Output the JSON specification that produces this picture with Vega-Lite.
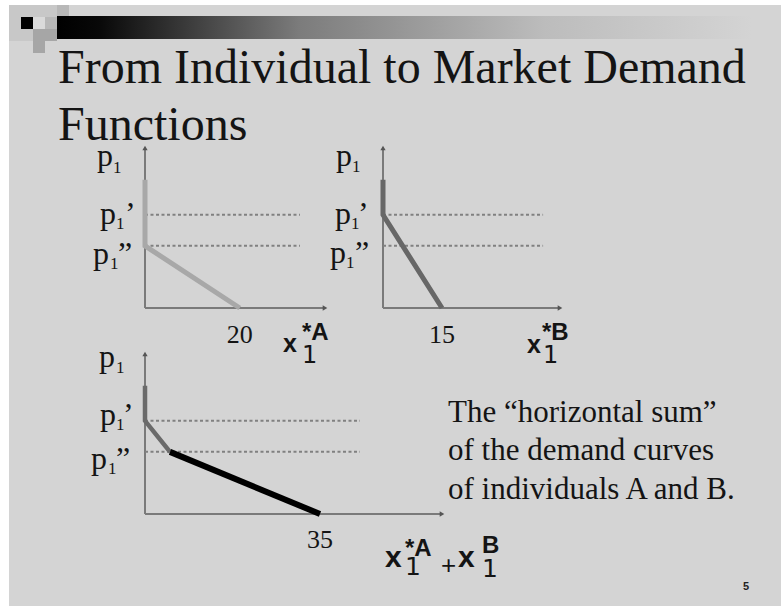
{
  "$schema": "https://vega.github.io/schema/vega-lite/v6.json",
  "width": 781,
  "height": 606,
  "padding": 0,
  "autosize": {"type": "none"},
  "background": "#ffffff",
  "config": {"view": {"stroke": null}, "axis": {"disable": true}, "legend": {"disable": true}},
  "data": {"values": [{}]},
  "datasets": {
    "deco": [
      {"col": 0, "row": 0, "tone": "light"}, {"col": 1, "row": 0, "tone": "light"}, {"col": 2, "row": 0, "tone": "light"}, {"col": 3, "row": 0, "tone": "light"}, {"col": 4, "row": 0, "tone": "mid"},
      {"col": 0, "row": 1, "tone": "light"}, {"col": 1, "row": 1, "tone": "black"}, {"col": 2, "row": 1, "tone": "pale"}, {"col": 3, "row": 1, "tone": "mid"},
      {"col": 0, "row": 2, "tone": "light"}, {"col": 1, "row": 2, "tone": "light"}, {"col": 2, "row": 2, "tone": "dark"}, {"col": 3, "row": 2, "tone": "dark"},
      {"col": 2, "row": 3, "tone": "dark"}
    ],
    "levels": [
      {"level": "high", "price": 6, "prime": "’"},
      {"level": "low", "price": 4, "prime": "”"}
    ],
    "curveA": [
      {"step": 1, "q": 0, "p": 8.25},
      {"step": 2, "q": 0, "p": 4},
      {"step": 3, "q": 20, "p": 0}
    ],
    "curveB": [
      {"step": 1, "q": 0, "p": 8.25},
      {"step": 2, "q": 0, "p": 6},
      {"step": 3, "q": 15, "p": 0}
    ],
    "curveC": [
      {"part": "B", "step": 1, "q": 0, "p": 8.25},
      {"part": "B", "step": 2, "q": 0, "p": 6},
      {"part": "B", "step": 3, "q": 5, "p": 4},
      {"part": "AB", "step": 4, "q": 5, "p": 4},
      {"part": "AB", "step": 5, "q": 35, "p": 0}
    ]
  },
  "resolve": {"scale": {"x": "independent", "y": "independent"}},
  "layer": [
    {
      "layer": [
        {
          "mark": {"type": "rect", "fill": "#d4d4d4"},
          "encoding": {
            "x": {"datum": 0, "type": "quantitative", "scale": {"domain": [0, 1], "range": [9, 781], "nice": false, "zero": false}},
            "x2": {"datum": 1},
            "y": {"datum": 0, "type": "quantitative", "scale": {"domain": [0, 1], "range": [5, 606], "nice": false, "zero": false}},
            "y2": {"datum": 1}
          }
        },
        {
          "mark": {"type": "text", "text": "5", "font": "Liberation Sans", "fontWeight": "bold", "fontSize": 11, "align": "center", "baseline": "alphabetic", "dx": -35, "dy": -16, "color": "#222222"},
          "encoding": {
            "x": {"datum": 1, "type": "quantitative", "scale": {"domain": [0, 1], "range": [9, 781], "nice": false, "zero": false}},
            "y": {"datum": 1, "type": "quantitative", "scale": {"domain": [0, 1], "range": [5, 606], "nice": false, "zero": false}}
          }
        }
      ]
    },
    {
      "data": {"name": "deco"},
      "mark": {"type": "rect", "strokeWidth": 0},
      "encoding": {
        "x": {"field": "col", "type": "ordinal", "scale": {"range": [9, 69], "paddingInner": 0, "paddingOuter": 0}},
        "y": {"field": "row", "type": "ordinal", "scale": {"range": [5, 53], "paddingInner": 0, "paddingOuter": 0}},
        "color": {"field": "tone", "type": "nominal", "scale": {"domain": ["black", "dark", "mid", "light", "pale"], "range": ["#000000", "#a6a6a6", "#b8b8b8", "#c8c8c8", "#dadada"]}}
      }
    },
    {
      "layer": [
        {
          "mark": {"type": "rect", "fill": {"gradient": "linear", "x1": 0, "y1": 0, "x2": 1, "y2": 0, "stops": [{"offset": 0, "color": "#000000"}, {"offset": 0.06, "color": "#080808"}, {"offset": 0.35, "color": "#7c7c7c"}, {"offset": 0.7, "color": "#bcbcbc"}, {"offset": 1, "color": "#d4d4d4"}]}},
          "encoding": {
            "x": {"datum": 0, "type": "quantitative", "scale": {"domain": [0, 1], "range": [57, 752], "nice": false, "zero": false}},
            "x2": {"datum": 1},
            "y": {"datum": 0, "type": "quantitative", "scale": {"domain": [0, 1], "range": [16, 39], "nice": false, "zero": false}},
            "y2": {"datum": 1}
          }
        },
        {
          "mark": {"type": "text", "text": ["From Individual to Market Demand", "Functions"], "font": "Liberation Serif", "fontSize": 48, "lineHeight": 57, "align": "left", "baseline": "alphabetic", "dx": 1, "dy": 44, "color": "#141414"},
          "encoding": {
            "x": {"datum": 0, "type": "quantitative", "scale": {"domain": [0, 1], "range": [57, 752], "nice": false, "zero": false}},
            "y": {"datum": 1, "type": "quantitative", "scale": {"domain": [0, 1], "range": [16, 39], "nice": false, "zero": false}}
          }
        }
      ]
    },
    {
      "layer": [
        {
          "mark": {"type": "rule", "color": "#7a7a7a", "strokeWidth": 2},
          "encoding": {
            "x": {"datum": 0, "type": "quantitative", "scale": {"domain": [0, 38], "range": [145, 325], "nice": false, "zero": false}},
            "y": {"datum": 0, "type": "quantitative", "scale": {"domain": [0, 10.3], "range": [308, 148], "nice": false, "zero": false}},
            "y2": {"datum": 10.3}
          }
        },
        {
          "mark": {"type": "rule", "color": "#7a7a7a", "strokeWidth": 2},
          "encoding": {
            "x": {"datum": 0, "type": "quantitative", "scale": {"domain": [0, 38], "range": [145, 325], "nice": false, "zero": false}},
            "x2": {"datum": 38},
            "y": {"datum": 0, "type": "quantitative", "scale": {"domain": [0, 10.3], "range": [308, 148], "nice": false, "zero": false}}
          }
        },
        {
          "mark": {"type": "point", "shape": "triangle-up", "size": 28, "filled": true, "color": "#555555", "opacity": 1},
          "encoding": {
            "x": {"datum": 0, "type": "quantitative", "scale": {"domain": [0, 38], "range": [145, 325], "nice": false, "zero": false}},
            "y": {"datum": 10.3, "type": "quantitative", "scale": {"domain": [0, 10.3], "range": [308, 148], "nice": false, "zero": false}}
          }
        },
        {
          "mark": {"type": "point", "shape": "triangle-right", "size": 28, "filled": true, "color": "#555555", "opacity": 1},
          "encoding": {
            "x": {"datum": 38, "type": "quantitative", "scale": {"domain": [0, 38], "range": [145, 325], "nice": false, "zero": false}},
            "y": {"datum": 0, "type": "quantitative", "scale": {"domain": [0, 10.3], "range": [308, 148], "nice": false, "zero": false}}
          }
        },
        {
          "data": {"name": "levels"},
          "mark": {"type": "rule", "color": "#808080", "strokeWidth": 2, "strokeDash": [3, 2.5]},
          "encoding": {
            "x": {"datum": 0, "type": "quantitative", "scale": {"domain": [0, 38], "range": [145, 325], "nice": false, "zero": false}},
            "x2": {"datum": 32.7},
            "y": {"field": "price", "type": "quantitative", "scale": {"domain": [0, 10.3], "range": [308, 148], "nice": false, "zero": false}}
          }
        },
        {
          "data": {"name": "curveA"},
          "mark": {"type": "line", "color": "#a8a8a8", "strokeWidth": 5},
          "encoding": {
            "x": {"field": "q", "type": "quantitative", "scale": {"domain": [0, 38], "range": [145, 325], "nice": false, "zero": false}},
            "y": {"field": "p", "type": "quantitative", "scale": {"domain": [0, 10.3], "range": [308, 148], "nice": false, "zero": false}},
            "order": {"field": "step", "type": "quantitative"}
          }
        },
        {
          "data": {"name": "curveA"},
          "transform": [{"filter": "datum.p == 0"}],
          "mark": {"type": "text", "font": "Liberation Serif", "fontSize": 26, "align": "center", "baseline": "alphabetic", "dy": 35, "color": "#141414"},
          "encoding": {
            "x": {"field": "q", "type": "quantitative", "scale": {"domain": [0, 38], "range": [145, 325], "nice": false, "zero": false}},
            "y": {"field": "p", "type": "quantitative", "scale": {"domain": [0, 10.3], "range": [308, 148], "nice": false, "zero": false}},
            "text": {"field": "q", "type": "quantitative"}
          }
        },
        {
          "layer": [
            {"mark": {"type": "text", "text": "p", "font": "Liberation Serif", "fontSize": 32, "align": "left", "baseline": "alphabetic", "dx": -48, "dy": 18, "color": "#141414"}},
            {"mark": {"type": "text", "text": "1", "font": "Liberation Serif", "fontSize": 17, "align": "left", "baseline": "alphabetic", "dx": -32, "dy": 25, "color": "#141414"}}
          ],
          "encoding": {
            "x": {"datum": 0, "type": "quantitative", "scale": {"domain": [0, 38], "range": [145, 325], "nice": false, "zero": false}},
            "y": {"datum": 10.3, "type": "quantitative", "scale": {"domain": [0, 10.3], "range": [308, 148], "nice": false, "zero": false}}
          }
        },
        {
          "data": {"name": "levels"},
          "transform": [{"filter": "datum.level == 'high'"}],
          "layer": [
            {"mark": {"type": "text", "text": "p", "font": "Liberation Serif", "fontSize": 32, "align": "left", "baseline": "alphabetic", "dx": -45, "dy": 9, "color": "#141414"}},
            {"mark": {"type": "text", "text": "1", "font": "Liberation Serif", "fontSize": 17, "align": "left", "baseline": "alphabetic", "dx": -29, "dy": 14, "color": "#141414"}},
            {"mark": {"type": "text", "font": "Liberation Serif", "fontSize": 32, "align": "left", "baseline": "alphabetic", "dx": -20, "dy": 9, "color": "#141414"}, "encoding": {"text": {"field": "prime"}}}
          ],
          "encoding": {
            "x": {"datum": 0, "type": "quantitative", "scale": {"domain": [0, 38], "range": [145, 325], "nice": false, "zero": false}},
            "y": {"field": "price", "type": "quantitative", "scale": {"domain": [0, 10.3], "range": [308, 148], "nice": false, "zero": false}}
          }
        },
        {
          "data": {"name": "levels"},
          "transform": [{"filter": "datum.level == 'low'"}],
          "layer": [
            {"mark": {"type": "text", "text": "p", "font": "Liberation Serif", "fontSize": 32, "align": "left", "baseline": "alphabetic", "dx": -52, "dy": 18, "color": "#141414"}},
            {"mark": {"type": "text", "text": "1", "font": "Liberation Serif", "fontSize": 17, "align": "left", "baseline": "alphabetic", "dx": -35, "dy": 23, "color": "#141414"}},
            {"mark": {"type": "text", "font": "Liberation Serif", "fontSize": 32, "align": "left", "baseline": "alphabetic", "dx": -27, "dy": 18, "color": "#141414"}, "encoding": {"text": {"field": "prime"}}}
          ],
          "encoding": {
            "x": {"datum": 0, "type": "quantitative", "scale": {"domain": [0, 38], "range": [145, 325], "nice": false, "zero": false}},
            "y": {"field": "price", "type": "quantitative", "scale": {"domain": [0, 10.3], "range": [308, 148], "nice": false, "zero": false}}
          }
        },
        {
          "layer": [
            {"mark": {"type": "text", "text": "x", "font": "Liberation Sans", "fontWeight": "bold", "fontSize": 25, "align": "left", "baseline": "alphabetic", "dx": -42, "dy": 44, "color": "#141414"}},
            {"mark": {"type": "text", "text": "1", "font": "DejaVu Sans", "fontSize": 24, "align": "left", "baseline": "alphabetic", "dx": -23, "dy": 55, "color": "#141414"}},
            {"mark": {"type": "text", "text": "*A", "font": "Liberation Sans", "fontWeight": "bold", "fontSize": 24, "align": "left", "baseline": "alphabetic", "dx": -23, "dy": 32, "color": "#141414"}}
          ],
          "encoding": {
            "x": {"datum": 38, "type": "quantitative", "scale": {"domain": [0, 38], "range": [145, 325], "nice": false, "zero": false}},
            "y": {"datum": 0, "type": "quantitative", "scale": {"domain": [0, 10.3], "range": [308, 148], "nice": false, "zero": false}}
          }
        }
      ]
    },
    {
      "layer": [
        {
          "mark": {"type": "rule", "color": "#7a7a7a", "strokeWidth": 2},
          "encoding": {
            "x": {"datum": 0, "type": "quantitative", "scale": {"domain": [0, 45], "range": [383, 560], "nice": false, "zero": false}},
            "y": {"datum": 0, "type": "quantitative", "scale": {"domain": [0, 10.3], "range": [308, 148], "nice": false, "zero": false}},
            "y2": {"datum": 10.3}
          }
        },
        {
          "mark": {"type": "rule", "color": "#7a7a7a", "strokeWidth": 2},
          "encoding": {
            "x": {"datum": 0, "type": "quantitative", "scale": {"domain": [0, 45], "range": [383, 560], "nice": false, "zero": false}},
            "x2": {"datum": 45},
            "y": {"datum": 0, "type": "quantitative", "scale": {"domain": [0, 10.3], "range": [308, 148], "nice": false, "zero": false}}
          }
        },
        {
          "mark": {"type": "point", "shape": "triangle-up", "size": 28, "filled": true, "color": "#555555", "opacity": 1},
          "encoding": {
            "x": {"datum": 0, "type": "quantitative", "scale": {"domain": [0, 45], "range": [383, 560], "nice": false, "zero": false}},
            "y": {"datum": 10.3, "type": "quantitative", "scale": {"domain": [0, 10.3], "range": [308, 148], "nice": false, "zero": false}}
          }
        },
        {
          "mark": {"type": "point", "shape": "triangle-right", "size": 28, "filled": true, "color": "#555555", "opacity": 1},
          "encoding": {
            "x": {"datum": 45, "type": "quantitative", "scale": {"domain": [0, 45], "range": [383, 560], "nice": false, "zero": false}},
            "y": {"datum": 0, "type": "quantitative", "scale": {"domain": [0, 10.3], "range": [308, 148], "nice": false, "zero": false}}
          }
        },
        {
          "data": {"name": "levels"},
          "mark": {"type": "rule", "color": "#808080", "strokeWidth": 2, "strokeDash": [3, 2.5]},
          "encoding": {
            "x": {"datum": 0, "type": "quantitative", "scale": {"domain": [0, 45], "range": [383, 560], "nice": false, "zero": false}},
            "x2": {"datum": 40.7},
            "y": {"field": "price", "type": "quantitative", "scale": {"domain": [0, 10.3], "range": [308, 148], "nice": false, "zero": false}}
          }
        },
        {
          "data": {"name": "curveB"},
          "mark": {"type": "line", "color": "#676767", "strokeWidth": 5},
          "encoding": {
            "x": {"field": "q", "type": "quantitative", "scale": {"domain": [0, 45], "range": [383, 560], "nice": false, "zero": false}},
            "y": {"field": "p", "type": "quantitative", "scale": {"domain": [0, 10.3], "range": [308, 148], "nice": false, "zero": false}},
            "order": {"field": "step", "type": "quantitative"}
          }
        },
        {
          "data": {"name": "curveB"},
          "transform": [{"filter": "datum.p == 0"}],
          "mark": {"type": "text", "font": "Liberation Serif", "fontSize": 26, "align": "center", "baseline": "alphabetic", "dy": 35, "color": "#141414"},
          "encoding": {
            "x": {"field": "q", "type": "quantitative", "scale": {"domain": [0, 45], "range": [383, 560], "nice": false, "zero": false}},
            "y": {"field": "p", "type": "quantitative", "scale": {"domain": [0, 10.3], "range": [308, 148], "nice": false, "zero": false}},
            "text": {"field": "q", "type": "quantitative"}
          }
        },
        {
          "layer": [
            {"mark": {"type": "text", "text": "p", "font": "Liberation Serif", "fontSize": 32, "align": "left", "baseline": "alphabetic", "dx": -47, "dy": 18, "color": "#141414"}},
            {"mark": {"type": "text", "text": "1", "font": "Liberation Serif", "fontSize": 17, "align": "left", "baseline": "alphabetic", "dx": -31, "dy": 24, "color": "#141414"}}
          ],
          "encoding": {
            "x": {"datum": 0, "type": "quantitative", "scale": {"domain": [0, 45], "range": [383, 560], "nice": false, "zero": false}},
            "y": {"datum": 10.3, "type": "quantitative", "scale": {"domain": [0, 10.3], "range": [308, 148], "nice": false, "zero": false}}
          }
        },
        {
          "data": {"name": "levels"},
          "transform": [{"filter": "datum.level == 'high'"}],
          "layer": [
            {"mark": {"type": "text", "text": "p", "font": "Liberation Serif", "fontSize": 32, "align": "left", "baseline": "alphabetic", "dx": -48, "dy": 9, "color": "#141414"}},
            {"mark": {"type": "text", "text": "1", "font": "Liberation Serif", "fontSize": 17, "align": "left", "baseline": "alphabetic", "dx": -32, "dy": 14, "color": "#141414"}},
            {"mark": {"type": "text", "font": "Liberation Serif", "fontSize": 32, "align": "left", "baseline": "alphabetic", "dx": -25, "dy": 9, "color": "#141414"}, "encoding": {"text": {"field": "prime"}}}
          ],
          "encoding": {
            "x": {"datum": 0, "type": "quantitative", "scale": {"domain": [0, 45], "range": [383, 560], "nice": false, "zero": false}},
            "y": {"field": "price", "type": "quantitative", "scale": {"domain": [0, 10.3], "range": [308, 148], "nice": false, "zero": false}}
          }
        },
        {
          "data": {"name": "levels"},
          "transform": [{"filter": "datum.level == 'low'"}],
          "layer": [
            {"mark": {"type": "text", "text": "p", "font": "Liberation Serif", "fontSize": 32, "align": "left", "baseline": "alphabetic", "dx": -53, "dy": 17, "color": "#141414"}},
            {"mark": {"type": "text", "text": "1", "font": "Liberation Serif", "fontSize": 17, "align": "left", "baseline": "alphabetic", "dx": -37, "dy": 22, "color": "#141414"}},
            {"mark": {"type": "text", "font": "Liberation Serif", "fontSize": 32, "align": "left", "baseline": "alphabetic", "dx": -28, "dy": 17, "color": "#141414"}, "encoding": {"text": {"field": "prime"}}}
          ],
          "encoding": {
            "x": {"datum": 0, "type": "quantitative", "scale": {"domain": [0, 45], "range": [383, 560], "nice": false, "zero": false}},
            "y": {"field": "price", "type": "quantitative", "scale": {"domain": [0, 10.3], "range": [308, 148], "nice": false, "zero": false}}
          }
        },
        {
          "layer": [
            {"mark": {"type": "text", "text": "x", "font": "Liberation Sans", "fontWeight": "bold", "fontSize": 25, "align": "left", "baseline": "alphabetic", "dx": -33, "dy": 45, "color": "#141414"}},
            {"mark": {"type": "text", "text": "1", "font": "DejaVu Sans", "fontSize": 24, "align": "left", "baseline": "alphabetic", "dx": -17, "dy": 55, "color": "#141414"}},
            {"mark": {"type": "text", "text": "*B", "font": "Liberation Sans", "fontWeight": "bold", "fontSize": 24, "align": "left", "baseline": "alphabetic", "dx": -18, "dy": 32, "color": "#141414"}}
          ],
          "encoding": {
            "x": {"datum": 45, "type": "quantitative", "scale": {"domain": [0, 45], "range": [383, 560], "nice": false, "zero": false}},
            "y": {"datum": 0, "type": "quantitative", "scale": {"domain": [0, 10.3], "range": [308, 148], "nice": false, "zero": false}}
          }
        }
      ]
    },
    {
      "layer": [
        {
          "mark": {"type": "rule", "color": "#7a7a7a", "strokeWidth": 2},
          "encoding": {
            "x": {"datum": 0, "type": "quantitative", "scale": {"domain": [0, 59.4], "range": [145, 442], "nice": false, "zero": false}},
            "y": {"datum": 0, "type": "quantitative", "scale": {"domain": [0, 10.3], "range": [514, 354], "nice": false, "zero": false}},
            "y2": {"datum": 10.3}
          }
        },
        {
          "mark": {"type": "rule", "color": "#7a7a7a", "strokeWidth": 2},
          "encoding": {
            "x": {"datum": 0, "type": "quantitative", "scale": {"domain": [0, 59.4], "range": [145, 442], "nice": false, "zero": false}},
            "x2": {"datum": 59.4},
            "y": {"datum": 0, "type": "quantitative", "scale": {"domain": [0, 10.3], "range": [514, 354], "nice": false, "zero": false}}
          }
        },
        {
          "mark": {"type": "point", "shape": "triangle-up", "size": 28, "filled": true, "color": "#555555", "opacity": 1},
          "encoding": {
            "x": {"datum": 0, "type": "quantitative", "scale": {"domain": [0, 59.4], "range": [145, 442], "nice": false, "zero": false}},
            "y": {"datum": 10.3, "type": "quantitative", "scale": {"domain": [0, 10.3], "range": [514, 354], "nice": false, "zero": false}}
          }
        },
        {
          "mark": {"type": "point", "shape": "triangle-right", "size": 28, "filled": true, "color": "#555555", "opacity": 1},
          "encoding": {
            "x": {"datum": 59.4, "type": "quantitative", "scale": {"domain": [0, 59.4], "range": [145, 442], "nice": false, "zero": false}},
            "y": {"datum": 0, "type": "quantitative", "scale": {"domain": [0, 10.3], "range": [514, 354], "nice": false, "zero": false}}
          }
        },
        {
          "data": {"name": "levels"},
          "mark": {"type": "rule", "color": "#808080", "strokeWidth": 2, "strokeDash": [3, 2.5]},
          "encoding": {
            "x": {"datum": 0, "type": "quantitative", "scale": {"domain": [0, 59.4], "range": [145, 442], "nice": false, "zero": false}},
            "x2": {"datum": 43},
            "y": {"field": "price", "type": "quantitative", "scale": {"domain": [0, 10.3], "range": [514, 354], "nice": false, "zero": false}}
          }
        },
        {
          "data": {"name": "curveC"},
          "transform": [{"filter": "datum.part == 'B'"}],
          "mark": {"type": "line", "color": "#6a6a6a", "strokeWidth": 4.5},
          "encoding": {
            "x": {"field": "q", "type": "quantitative", "scale": {"domain": [0, 59.4], "range": [145, 442], "nice": false, "zero": false}},
            "y": {"field": "p", "type": "quantitative", "scale": {"domain": [0, 10.3], "range": [514, 354], "nice": false, "zero": false}},
            "order": {"field": "step", "type": "quantitative"}
          }
        },
        {
          "data": {"name": "curveC"},
          "transform": [{"filter": "datum.part == 'AB'"}],
          "mark": {"type": "line", "color": "#000000", "strokeWidth": 6},
          "encoding": {
            "x": {"field": "q", "type": "quantitative", "scale": {"domain": [0, 59.4], "range": [145, 442], "nice": false, "zero": false}},
            "y": {"field": "p", "type": "quantitative", "scale": {"domain": [0, 10.3], "range": [514, 354], "nice": false, "zero": false}},
            "order": {"field": "step", "type": "quantitative"}
          }
        },
        {
          "data": {"name": "curveC"},
          "transform": [{"filter": "datum.p == 0"}],
          "mark": {"type": "text", "font": "Liberation Serif", "fontSize": 26, "align": "center", "baseline": "alphabetic", "dy": 34, "color": "#141414"},
          "encoding": {
            "x": {"field": "q", "type": "quantitative", "scale": {"domain": [0, 59.4], "range": [145, 442], "nice": false, "zero": false}},
            "y": {"field": "p", "type": "quantitative", "scale": {"domain": [0, 10.3], "range": [514, 354], "nice": false, "zero": false}},
            "text": {"field": "q", "type": "quantitative"}
          }
        },
        {
          "layer": [
            {"mark": {"type": "text", "text": "p", "font": "Liberation Serif", "fontSize": 32, "align": "left", "baseline": "alphabetic", "dx": -46, "dy": 13, "color": "#141414"}},
            {"mark": {"type": "text", "text": "1", "font": "Liberation Serif", "fontSize": 17, "align": "left", "baseline": "alphabetic", "dx": -29, "dy": 19, "color": "#141414"}}
          ],
          "encoding": {
            "x": {"datum": 0, "type": "quantitative", "scale": {"domain": [0, 59.4], "range": [145, 442], "nice": false, "zero": false}},
            "y": {"datum": 10.3, "type": "quantitative", "scale": {"domain": [0, 10.3], "range": [514, 354], "nice": false, "zero": false}}
          }
        },
        {
          "data": {"name": "levels"},
          "transform": [{"filter": "datum.level == 'high'"}],
          "layer": [
            {"mark": {"type": "text", "text": "p", "font": "Liberation Serif", "fontSize": 32, "align": "left", "baseline": "alphabetic", "dx": -45, "dy": 4, "color": "#141414"}},
            {"mark": {"type": "text", "text": "1", "font": "Liberation Serif", "fontSize": 17, "align": "left", "baseline": "alphabetic", "dx": -29, "dy": 9, "color": "#141414"}},
            {"mark": {"type": "text", "font": "Liberation Serif", "fontSize": 32, "align": "left", "baseline": "alphabetic", "dx": -22, "dy": 4, "color": "#141414"}, "encoding": {"text": {"field": "prime"}}},
            {"mark": {"type": "text", "text": ["The “horizontal sum”", "of the demand curves", "of individuals A and B."], "font": "Liberation Serif", "fontSize": 31, "lineHeight": 38.5, "align": "left", "baseline": "alphabetic", "dx": 303, "dy": 1, "color": "#141414"}}
          ],
          "encoding": {
            "x": {"datum": 0, "type": "quantitative", "scale": {"domain": [0, 59.4], "range": [145, 442], "nice": false, "zero": false}},
            "y": {"field": "price", "type": "quantitative", "scale": {"domain": [0, 10.3], "range": [514, 354], "nice": false, "zero": false}}
          }
        },
        {
          "data": {"name": "levels"},
          "transform": [{"filter": "datum.level == 'low'"}],
          "layer": [
            {"mark": {"type": "text", "text": "p", "font": "Liberation Serif", "fontSize": 32, "align": "left", "baseline": "alphabetic", "dx": -54, "dy": 17, "color": "#141414"}},
            {"mark": {"type": "text", "text": "1", "font": "Liberation Serif", "fontSize": 17, "align": "left", "baseline": "alphabetic", "dx": -37, "dy": 22, "color": "#141414"}},
            {"mark": {"type": "text", "font": "Liberation Serif", "fontSize": 32, "align": "left", "baseline": "alphabetic", "dx": -29, "dy": 17, "color": "#141414"}, "encoding": {"text": {"field": "prime"}}}
          ],
          "encoding": {
            "x": {"datum": 0, "type": "quantitative", "scale": {"domain": [0, 59.4], "range": [145, 442], "nice": false, "zero": false}},
            "y": {"field": "price", "type": "quantitative", "scale": {"domain": [0, 10.3], "range": [514, 354], "nice": false, "zero": false}}
          }
        },
        {
          "layer": [
            {"mark": {"type": "text", "text": "x", "font": "Liberation Sans", "fontWeight": "bold", "fontSize": 30, "align": "left", "baseline": "alphabetic", "dx": -57, "dy": 53, "color": "#141414"}},
            {"mark": {"type": "text", "text": "1", "font": "DejaVu Sans", "fontSize": 25, "align": "left", "baseline": "alphabetic", "dx": -37, "dy": 61, "color": "#141414"}},
            {"mark": {"type": "text", "text": "*A", "font": "Liberation Sans", "fontWeight": "bold", "fontSize": 24, "align": "left", "baseline": "alphabetic", "dx": -37, "dy": 42, "color": "#141414"}},
            {"mark": {"type": "text", "text": "+", "font": "Liberation Sans", "fontSize": 26, "align": "left", "baseline": "alphabetic", "dx": -1, "dy": 60, "color": "#141414"}},
            {"mark": {"type": "text", "text": "x", "font": "Liberation Sans", "fontWeight": "bold", "fontSize": 30, "align": "left", "baseline": "alphabetic", "dx": 16, "dy": 53, "color": "#141414"}},
            {"mark": {"type": "text", "text": "B", "font": "Liberation Sans", "fontWeight": "bold", "fontSize": 24, "align": "left", "baseline": "alphabetic", "dx": 40, "dy": 39, "color": "#141414"}},
            {"mark": {"type": "text", "text": "1", "font": "DejaVu Sans", "fontSize": 25, "align": "left", "baseline": "alphabetic", "dx": 40, "dy": 63, "color": "#141414"}}
          ],
          "encoding": {
            "x": {"datum": 59.4, "type": "quantitative", "scale": {"domain": [0, 59.4], "range": [145, 442], "nice": false, "zero": false}},
            "y": {"datum": 0, "type": "quantitative", "scale": {"domain": [0, 10.3], "range": [514, 354], "nice": false, "zero": false}}
          }
        }
      ]
    }
  ]
}
